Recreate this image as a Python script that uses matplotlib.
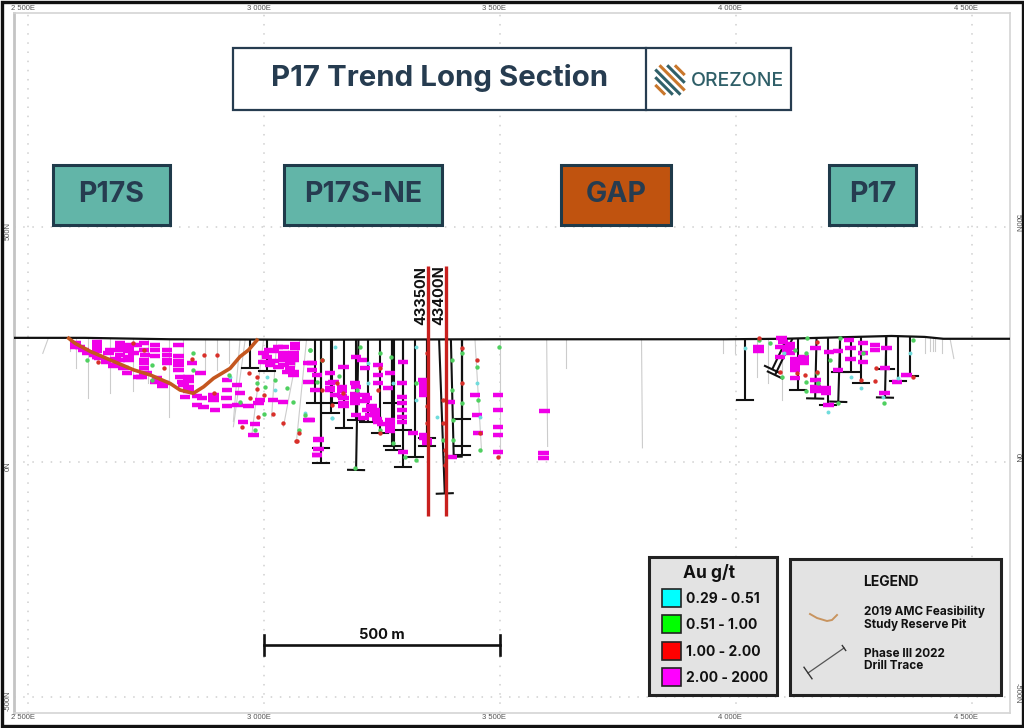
import numpy as np
import matplotlib
matplotlib.use("Agg")
import matplotlib.pyplot as plt
from matplotlib.patches import Rectangle

plt.rcParams['font.family'] = ['Inter', 'DejaVu Sans']

NAVY = '#263c50'
TEAL = '#62b5a8'
RUST = '#c0530f'

# section coordinates, metres
east_ticks = [2500, 3000, 3500, 4000, 4500]
north_ticks = [500, 0, -500]
east_labels = ['2 500E', '3 000E', '3 500E', '4 000E', '4 500E']
north_labels = ['500N', '0N', '-500N']

surface_e = [2470, 2620, 2800, 3100, 3500, 3980, 4100, 4330, 4400, 4440, 4581]
surface_n = [264, 264, 261, 260, 261, 261, 262, 268, 266, 262, 262]

pit_e = [2586, 2600, 2632, 2674, 2723, 2759, 2801, 2822, 2850, 2872, 2893, 2928, 2949, 2967, 2985]
pit_n = [263, 252, 235, 217, 196, 185, 167, 153, 146, 160, 178, 199, 224, 238, 259]

# 2022 drill traces: collar easting, end easting, end northing
hole_e = [2970, 3006, 3107, 3120, 3120, 3145, 3142, 3170, 3195, 3200, 3220, 3246, 3271, 3271, 3276,
          3295, 3295, 3320, 3345, 3345, 3371, 3396, 3420, 3420, 3420,
          4019, 4108, 4120, 4132, 4171, 4196, 4221, 4221, 4245, 4266, 4319, 4319, 4344, 4369]
hole_end_e = [2970, 3006, 3107, 3120, 3120, 3145, 3142, 3170, 3195, 3195, 3220, 3246, 3271, 3271, 3276,
              3295, 3295, 3320, 3345, 3345, 3383, 3402, 3420, 3420, 3420,
              4019, 4077, 4083, 4132, 4168, 4196, 4221, 4217, 4245, 4266, 4319, 4316, 4344, 4369]
hole_end_n = [199, 194, 125, -3, 29, 125, 104, 73, 89, -17, 86, 61, 125, 33, 26,
              -10, 68, 11, 33, 50, -67, 11, 15, 33, 91,
              132, 197, 185, 153, 135, 121, 192, 128, 192, 169, 197, 137, 173, 183]

# older holes, thin grey
old_e = [2543, 2589, 2602, 2626, 2674, 2723, 2755, 2798, 2829, 2875, 2900, 2925, 2949, 2960, 2999, 3027,
         3076, 3090, 3447, 3500, 3599, 3640, 3800, 3973, 3998, 4044, 4069, 4097, 4401, 4411, 4418, 4422,
         4436, 4454]
old_end_e = [2531, 2589, 2602, 2626, 2674, 2723, 2755, 2798, 2829, 2875, 2900, 2925, 2935, 2935, 2974, 3016,
             3041, 3069, 3461, 3500, 3601, 3640, 3802, 3973, 3998, 4044, 4069, 4097, 4401, 4411, 4418, 4422,
             4436, 4462]
old_end_n = [231, 235, 199, 135, 146, 150, 167, 96, 217, 196, 196, 210, 86, 75, 57, 96,
             75, 47, 22, 11, 33, 200, 30, 231, 231, 181, 167, 132, 231, 235, 235, 235,
             231, 220]

# assay intervals by grade class
mag_e = [2600, 2610, 2617, 2646, 2646, 2646, 2646, 2646, 2674, 2670, 2685, 2695, 2695, 2695, 2713, 2713, 2713,
         2730, 2723, 2745, 2748, 2745, 2745, 2769, 2769, 2794, 2794, 2794, 2646, 2667, 2685, 2702, 2734, 2752,
         2773, 2787, 2819, 2819, 2819, 2847, 2865, 2822, 2840, 2826, 2840, 2829, 2833, 2858, 2868, 2858, 2872,
         2893, 2893, 2896, 2921, 2921, 2920, 2921, 2942, 2949, 2944, 2967, 2988, 2992, 2956, 2981, 2978, 3019,
         3040, 2999, 3006, 2999, 3020, 3041, 3041, 3041, 3062, 3066, 3062, 3055, 3062, 3031, 3013, 3094, 3101,
         3101, 3112, 3094, 3108, 3140, 3147, 3140, 3150, 3115, 3112, 3094,
         3168, 3165, 3165, 3168, 3168, 3140, 3140, 3195, 3207, 3193, 3193, 3193, 3195, 3214, 3214, 3218, 3218,
         3235, 3235, 3242, 3211, 3242, 3242, 3242, 3267, 3263, 3267, 3267, 3295, 3292, 3292, 3292, 3295, 3316,
         3338, 3339, 3339, 3339, 3345, 3394, 3398, 3447, 3451, 3454, 3496, 3496, 3496, 3496, 3496, 3594, 3592,
         3592, 3096, 3115, 3115, 3112,
         4048, 4048, 4097, 4094, 4115, 4115, 4094, 4125, 4125, 4125, 4125, 4143, 4143, 4143, 4169, 4169, 4169,
         4191, 4191, 4196, 4217, 4198, 4217, 4240, 4243, 4243, 4269, 4269, 4269, 4295, 4295, 4319, 4316, 4341,
         4362, 4315,
         # denser parts of the left, centre and P17 clusters
         2695, 2695, 2713, 2713, 2745, 2745, 2745, 2769, 2794, 2819, 2819, 2840, 2840, 2893,
         3010, 3020, 3041, 3041, 3062, 3055, 3030, 3066, 3050, 3062,
         3193, 3193, 3195, 3165, 3168, 3214, 3235, 3225, 3240, 3250, 3228, 3267, 3267, 3345, 3339, 3339, 3339,
         3292, 3292, 3292,
         2600, 2625, 2650, 2680, 2710, 2740, 2770, 2785, 2640, 2665,
         4115, 4108, 4100, 4125, 4143, 4191, 4169]
mag_n = [252, 245, 238, 256, 249, 242, 235, 224, 238, 231, 220, 252, 238, 228, 249, 235, 224,
         249, 231, 252, 228, 210, 199, 249, 238, 238, 228, 217, 224, 217, 206, 199, 181, 189,
         178, 167, 249, 225, 206, 210, 190, 181, 181, 171, 160, 164, 139, 140, 135, 121, 116,
         142, 132, 111, 174, 153, 135, 118, 164, 146, 121, 119, 126, 132, 86, 80, 57, 132,
         128, 231, 224, 213, 235, 245, 231, 217, 231, 242, 217, 199, 192, 203, 206, 210, 210,
         196, 185, 171, 153, 189, 171, 157, 142, 47, 15, 89,
         203, 160, 150, 135, 118, 167, 153, 224, 217, 167, 139, 132, 100, 199, 143, 135, 111,
         111, 100, 86, 93, 206, 185, 167, 189, 157, 89, 72, 213, 167, 139, 96, 22, 61,
         174, 157, 143, 58, 47, 128, 11, 143, 100, 61, 143, 111, 75, 58, 22, 109, 18,
         8, 89, 48, 27, 15,
         245, 235, 263, 245, 242, 231, 224, 218, 210, 196, 178, 224, 210, 213, 242, 174, 150,
         157, 146, 121, 237, 233, 196, 259, 242, 220, 252, 231, 213, 249, 238, 242, 199, 171,
         185, 147,
         245, 217, 242, 217, 238, 217, 190, 226, 210, 215, 195, 172, 150, 140,
         238, 215, 224, 206, 224, 210, 245, 250, 192, 184,
         145, 125, 160, 140, 125, 130, 105, 100, 92, 80, 118, 80, 65, 40, 50, 165, 150,
         110, 85, 125,
         245, 232, 222, 205, 190, 180, 170, 162, 228, 212,
         250, 238, 256, 204, 218, 151, 160]

green_e = [2625, 2762, 2762, 2850, 2850, 2985, 3002, 3048, 3023, 2999, 2981, 3073, 3087, 3062, 3098, 3122, 3112,
           2949, 2925, 3098, 3122, 3203, 3198, 3246, 3270, 3323, 3398, 3398, 3401, 3401, 3419, 3419, 3451, 3454,
           3458, 3498, 3380, 3299, 3323, 3193, 3274, 3246, 3158,
           4072, 4048, 4150, 4148, 4148, 4148, 4171, 4175, 4199, 4217, 4221, 4270, 4375, 4314, 4097, 4125]
green_n = [217, 206, 174, 231, 196, 167, 160, 157, 174, 103, 68, 68, 100, 128, 238, 217, 171,
           128, 185, 238, 217, 245, 153, 231, 224, 167, 217, 153, 89, 47, 231, 125, 203, 132,
           26, 244, 47, 11, 4, -13, 40, 68, 182,
           252, 259, 263, 231, 171, 150, 189, 167, 217, 125, 263, 231, 259, 125, 181, 238]

red_e = [2649, 2723, 2745, 2847, 2873, 2900, 2787, 2893, 2969, 2985, 2985, 2970, 2988, 3019, 3041, 3073, 3068,
         2953, 2999, 3122, 3154, 3143, 3168, 3246, 3242, 3246, 3345, 3345, 3345, 3380, 3380, 3383, 3383, 3419,
         3419, 3451, 3458, 3496, 3069, 3122,
         4048, 4094, 4129, 4146, 4171, 4171, 4298, 4295, 4266, 4376]
red_n = [213, 252, 238, 220, 228, 228, 199, 146, 190, 181, 155, 135, 96, 103, 82, 61, 45,
         74, 142, 153, 167, 121, 146, 199, 153, 61, 231, 118, 82, 132, 82, 26, -6, 242,
         167, 217, 61, 11, 45, 217,
         263, 192, 189, 185, 256, 192, 199, 172, 174, 181]

cyan_e = [2928, 3006, 3143, 3023, 3221, 3221, 3150, 3087, 3323, 3366, 3451, 3458, 3274, 3143, 3323,
          4019, 4101, 4196, 4266, 4369, 4245, 4312, 4344]
cyan_n = [181, 181, 93, 153, 210, 167, 245, 104, 132, 96, 167, 96, 167, 93, 245,
          242, 231, 107, 158, 231, 181, 139, 178]

section_e = [3347, 3386]
section_names = ['43350N', '43400N']
section_top = 417
section_bottom = -115

scale_start = 3000
scale_end = 3500
scale_n = -389

# panels and labels
zone_names = ['P17S', 'P17S-NE', 'GAP', 'P17']
zone_left = [53, 284, 561, 829]
zone_right = [170, 442, 671, 916]
zone_fill = [TEAL, TEAL, RUST, TEAL]

grade_labels = ['0.29 - 0.51', '0.51 - 1.00', '1.00 - 2.00', '2.00 - 2000']
grade_colors = ['#00ffff', '#00ff00', '#ff0000', '#ff00ff']
grade_rows = [589, 615, 642, 668]

key_pit_x = [810, 817, 827, 832, 837]
key_pit_y = [614, 618, 621, 620, 615]
key_hole_x = [808, 844]
key_hole_y = [673, 648]


def px_rect(ax, x0, y0, x1, y1, fc, ec, lw):
    ax.add_patch(Rectangle((x0, y0), x1 - x0, y1 - y0, facecolor=fc, edgecolor=ec, linewidth=lw))


fig = plt.figure(figsize=(10.24, 7.28), dpi=100, facecolor='white')

# main section, inner frame runs from px 14..1010 / 13..713
ax = fig.add_axes([14 / 1024, 1 - 713 / 728, 996 / 1024, 700 / 728])
ax.set_xlim(2470, 4581)
ax.set_ylim(-534, 955)
ax.set_xticks(east_ticks)
ax.set_yticks(north_ticks)
ax.tick_params(length=0, labelbottom=False, labelleft=False)
ax.grid(True, color='#cfcfcf', linewidth=1.1, linestyle=(0, (1, 5)))
ax.set_axisbelow(True)
for s in ax.spines.values():
    s.set_color('#d4d4d4')
    s.set_linewidth(1.2)
ax.spines['left'].set_color('#c4c4c4')
ax.spines['left'].set_linewidth(2)

for e, lab in zip(east_ticks, east_labels):
    for y, off in [(1, 3), (0, -3.5)]:
        ax.annotate(lab, (e, y), xycoords=ax.get_xaxis_transform(), xytext=(-4, off),
                    textcoords='offset points', ha='center', va='center', fontsize=5.5, color='#555555',
                    family='Liberation Sans', annotation_clip=False)
for n, lab in zip(north_ticks, north_labels):
    ax.annotate(lab, (0, n), xycoords=ax.get_yaxis_transform(), xytext=(-4, -3),
                textcoords='offset points', ha='center', va='center', fontsize=5.5, color='#555555',
                rotation=90, family='Liberation Sans', annotation_clip=False)
    ax.annotate(lab, (1, n), xycoords=ax.get_yaxis_transform(), xytext=(5, 3),
                textcoords='offset points', ha='center', va='center', fontsize=5.5, color='#555555',
                rotation=270, family='Liberation Sans', annotation_clip=False)

surf_at = np.interp(old_e, surface_e, surface_n)
for e0, e1, n0, n1 in zip(old_e, old_end_e, surf_at, old_end_n):
    ax.plot([e0, e1], [n0, n1], color='#cccccc', lw=0.8, zorder=2)

ax.plot(surface_e, surface_n, color='#111111', lw=1.6, zorder=3)

surf_at = np.interp(hole_e, surface_e, surface_n)
for e0, e1, n0, n1 in zip(hole_e, hole_end_e, surf_at, hole_end_n):
    ax.plot([e0, e1], [n0, n1], color='#111111', lw=1.5, zorder=3, solid_capstyle='butt')
    # end tick square to the trace
    d = np.array([e1 - e0, n1 - n0], dtype=float)
    d /= np.hypot(*d)
    ax.plot([e1 - d[1] * 17, e1 + d[1] * 17], [n1 + d[0] * 17, n1 - d[0] * 17],
            color='#111111', lw=1.5, zorder=3)

ax.hlines(mag_n, np.array(mag_e) - 11, np.array(mag_e) + 11, color='#f000e8', lw=3.2, zorder=4)
ax.scatter(cyan_e, cyan_n, s=8, color='#70dcdc', linewidths=0, zorder=5)
ax.scatter(green_e, green_n, s=10, color='#4fd060', linewidths=0, zorder=5)
ax.scatter(red_e, red_n, s=10, color='#d8302a', linewidths=0, zorder=5)
ax.plot(pit_e, pit_n, color='#c4571f', lw=2.6, zorder=6)

for e, name in zip(section_e, section_names):
    ax.plot([e, e], [section_top, section_bottom], color='#c8201e', lw=2.4, zorder=7, solid_capstyle='butt')
    ax.annotate(name, (e, section_top), xytext=(0, -21), textcoords='offset points', rotation=90,
                ha='right', va='center', fontsize=10.5, fontweight='bold', color='#111111', zorder=8)

ax.plot([scale_start, scale_end], [scale_n, scale_n], color='#111111', lw=1.9, zorder=3)
for e in [scale_start, scale_end]:
    ax.plot([e, e], [scale_n - 21, scale_n + 21], color='#111111', lw=1.9, zorder=3)
ax.annotate('500 m', ((scale_start + scale_end) / 2, scale_n), xytext=(0, 7), textcoords='offset points',
            ha='center', va='center', fontsize=10.5, fontweight='bold', color='#111111')

# overlay in picture pixels for the panels
ov = fig.add_axes([0, 0, 1, 1])
ov.set_xlim(0, 1024)
ov.set_ylim(728, 0)
ov.axis('off')
ov.patch.set_alpha(0)

# outer border
px_rect(ov, 1.5, 1.5, 1022.5, 726, 'none', '#111111', 2.4)

# title block
px_rect(ov, 233, 48, 791, 110, 'white', NAVY, 1.6)
ov.plot([646, 646], [48, 110], color=NAVY, lw=1.6)
ov.text(440, 78, 'P17 Trend Long Section', ha='center', va='center', fontsize=21.2, fontweight='bold', color=NAVY)
ov.text(737, 81, 'OREZONE', ha='center', va='center', fontsize=14, color='#2f5f68', fontweight='medium')

# logo, diagonal stripes in a diamond
for i, off in enumerate([-14, -8.5, -3, 3, 8.5, 14]):
    half = 21 - abs(off)
    cx, cy = 670 + off * 0.7, 80 - off * 0.7
    col = '#c9772c' if i in (0, 3, 5) else '#2f5f68'
    ov.plot([cx - half * 0.7, cx + half * 0.7], [cy - half * 0.7, cy + half * 0.7], color=col, lw=2.2,
            solid_capstyle='butt')

for name, x0, x1, fill in zip(zone_names, zone_left, zone_right, zone_fill):
    px_rect(ov, x0, 165, x1, 225, fill, '#1f3a4a', 2.2)
    ov.text((x0 + x1) / 2, 195, name, ha='center', va='center', fontsize=20.5, fontweight='bold', color=NAVY)

# grade legend
px_rect(ov, 649, 557, 777, 695, '#e3e3e3', '#222222', 2.2)
ov.text(709, 573, 'Au g/t', ha='center', va='center', fontsize=12.5, fontweight='bold', color='#111111')
for lab, col, y in zip(grade_labels, grade_colors, grade_rows):
    px_rect(ov, 662, y, 681, y + 18, col, '#222222', 1.2)
    ov.text(686, y + 10, lab, ha='left', va='center', fontsize=10, fontweight='bold', color='#111111')

# symbol legend
px_rect(ov, 790, 559, 1001, 695, '#e3e3e3', '#222222', 2.2)
ov.text(863, 582, 'LEGEND', ha='left', va='center', fontsize=10, fontweight='bold', color='#111111')
ov.text(864, 618, '2019 AMC Feasibility\nStudy Reserve Pit', ha='left', va='center', fontsize=8.5,
        fontweight='bold', color='#111111', linespacing=1.1)
ov.text(864, 660, 'Phase III 2022\nDrill Trace', ha='left', va='center', fontsize=8.5,
        fontweight='bold', color='#111111', linespacing=1.1)
ov.plot(key_pit_x, key_pit_y, color='#c8945f', lw=1.4)
ov.plot(key_hole_x, key_hole_y, color='#555555', lw=0.9)
d = np.array([key_hole_x[1] - key_hole_x[0], key_hole_y[1] - key_hole_y[0]], dtype=float)
d /= np.hypot(*d)
ov.plot([key_hole_x[0] - d[1] * 7, key_hole_x[0] + d[1] * 7], [key_hole_y[0] + d[0] * 7, key_hole_y[0] - d[0] * 7],
        color='#333333', lw=1)
ov.plot([key_hole_x[1] - d[1] * 3, key_hole_x[1] + d[1] * 3], [key_hole_y[1] + d[0] * 3, key_hole_y[1] - d[0] * 3],
        color='#333333', lw=1)

fig.savefig('out.png', dpi=100)
